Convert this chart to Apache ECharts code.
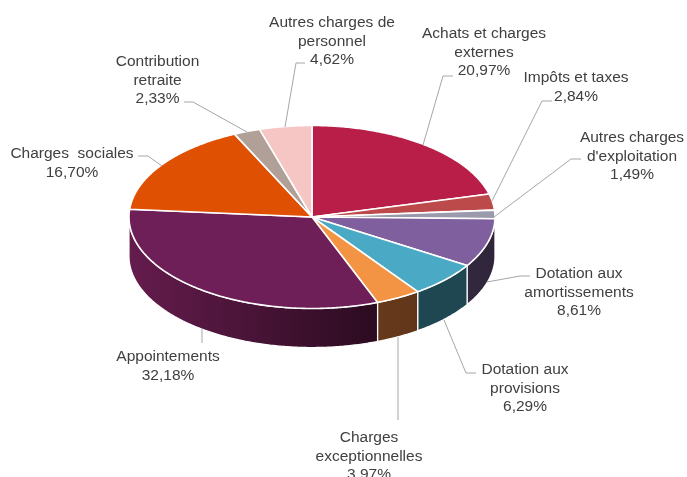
<!DOCTYPE html>
<html><head><meta charset="utf-8">
<style>html,body{margin:0;padding:0;background:#fff}#c{width:687px;height:477px}</style>
<script src="https://cdn.jsdelivr.net/npm/echarts@6/dist/echarts.min.js"></script>
</head><body><div id="c"></div>
<script>
const categories = ["Achats et charges\nexternes","Impôts et taxes","Autres charges\nd'exploitation","Dotation aux\namortissements","Dotation aux\nprovisions","Charges\nexceptionnelles","Appointements","Charges  sociales","Contribution\nretraite","Autres charges de\npersonnel"];
const percents = [20.97,2.84,1.49,8.61,6.29,3.97,32.18,16.70,2.33,4.62];
const topColors = ['#b81e48','#bc4a4a','#9a9aac','#7f5f9e','#4aaac6','#f39445','#6f1f57','#e05003','#b0a098','#f5c6c4'];
const wallColors = [null,null,null,['#33293f','#2f2439'],['#1f4751','#1f4751'],['#68391b','#60361a'],['#651c4d','#2b0b20'],null,null,null];

const pie = {cx:312, cy:217, rx:183, ry:91.5, depth:39};
const labelCenters = [[484,34],[576,78],[632,138],[579,274],[525,370],[369,438],[168,357],[72,154],[157.5,62],[332,23]];
const leaders = [
 [[423,145],[443,76],[453,76]],[[492,201],[542,101],[552,101]],[[494,217],[571,159],[581,159]],
 [[487,282],[520,276],[530,276]],[[444,320],[466,373],[476,373]],[[398,337],[398,420]],
 [[202,328],[202,343]],[[162,166],[148,156],[138,156]],[[247,132],[193,102],[184,102]],[[285,127],[296,63],[305,63]]];

const total = percents.reduce((a,b)=>a+b,0);
const starts = []; percents.reduce((a,b,i)=>{starts[i]=a;return a+b;},0);
const pt = (a,dy)=>[pie.cx+pie.rx*Math.sin(a), pie.cy-pie.ry*Math.cos(a)+(dy||0)];
function arc(a0,a1,dy){const n=Math.max(2,Math.ceil((a1-a0)/0.01));const out=[];for(let i=0;i<=n;i++)out.push(pt(a0+(a1-a0)*i/n,dy));return out;}
function angles(i,v){const a0=starts[i]/total*2*Math.PI;return [a0,a0+v/total*2*Math.PI];}
const data = percents.map(v=>[v]);

function renderTop(params,api){
  const i=params.dataIndex,[a0,a1]=angles(i,api.value(0));
  return {type:'polygon',shape:{points:[[pie.cx,pie.cy]].concat(arc(a0,a1))},
    style:{fill:topColors[i],stroke:'#fff',lineWidth:1.6,lineJoin:'round'}};
}
function renderWall(params,api){
  const i=params.dataIndex,[a0,a1]=angles(i,api.value(0));
  const lo=Math.max(a0,Math.PI/2),hi=Math.min(a1,Math.PI*1.5);
  if(hi<=lo||!wallColors[i])return {type:'group',children:[]};
  const pts=arc(lo,hi,0).concat(arc(lo,hi,pie.depth).reverse());
  return {type:'polygon',shape:{points:pts},style:{
    fill:{type:'linear',x:0,y:0,x2:1,y2:0,colorStops:[{offset:0,color:wallColors[i][0]},{offset:1,color:wallColors[i][1]}]},
    stroke:'#fff',lineWidth:1.2}};
}
function renderLabel(params,api){
  const i=params.dataIndex,c=labelCenters[i];
  const txt=categories[i]+'\n'+api.value(0).toFixed(2).replace('.',',')+'%';
  return {type:'group',children:[
    {type:'polyline',shape:{points:leaders[i]},style:{fill:'none',stroke:'#a6a6a6',lineWidth:1}},
    {type:'text',style:{text:txt,x:c[0],y:c[1]-9.25,align:'center',verticalAlign:'top',lineHeight:18.5,
      fill:'#404040',font:'15.5px "Liberation Sans", Arial, sans-serif'}}
  ]};
}
const chart=echarts.init(document.getElementById('c'),null,{renderer:'canvas'});
chart.setOption({animation:false,backgroundColor:'#fff',
  series:[
    {type:'custom',coordinateSystem:'none',renderItem:renderWall,data:data,z:1,silent:true},
    {type:'custom',coordinateSystem:'none',renderItem:renderTop,data:data,z:2,silent:true},
    {type:'custom',coordinateSystem:'none',renderItem:renderLabel,data:data,z:3,silent:true}
  ]});
</script></body></html>
